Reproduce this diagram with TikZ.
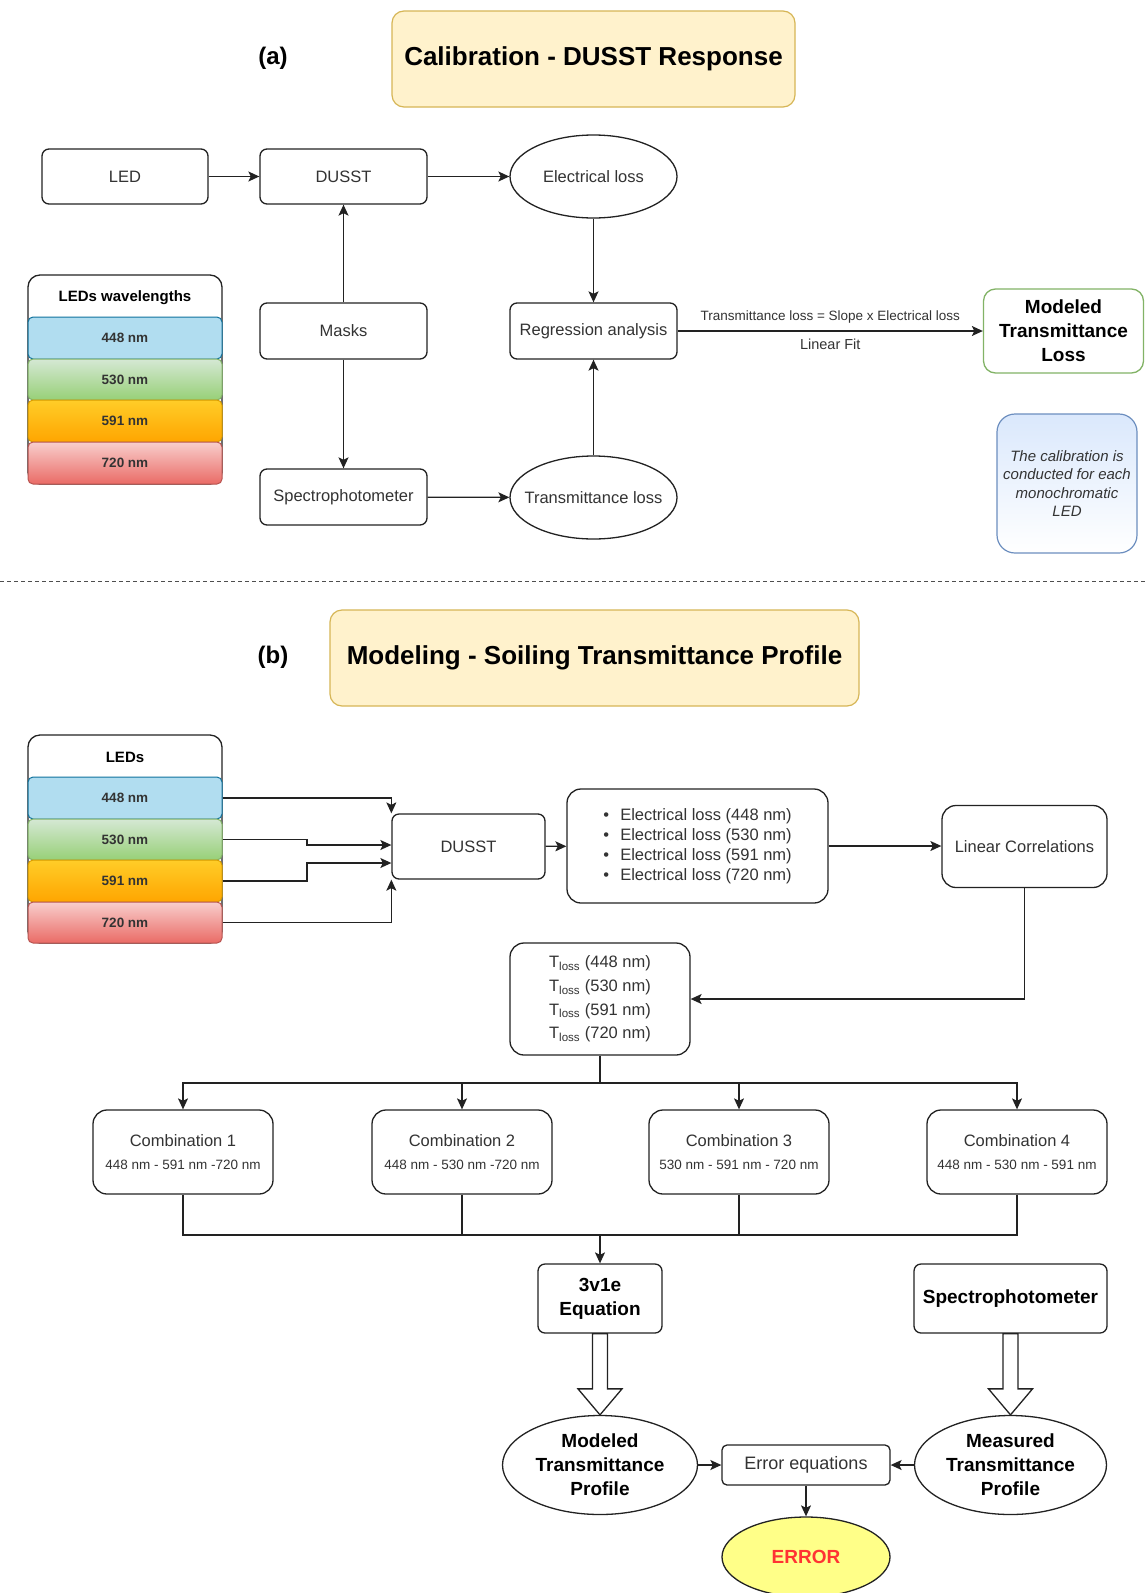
\documentclass[tikz,border=0pt]{standalone}
\usepackage{fontspec}
\setmainfont{Liberation Sans}
\usetikzlibrary{arrows.meta,calc,shapes.geometric}
\definecolor{ln}{HTML}{222222}
\definecolor{tx}{HTML}{333333}
\definecolor{ttlfill}{HTML}{FFF2CC}
\definecolor{ttldraw}{HTML}{D6B656}
\definecolor{bluefill}{HTML}{B1DDF0}
\definecolor{bluedraw}{HTML}{10739E}
\definecolor{greentop}{HTML}{D5E8D4}
\definecolor{greenbot}{HTML}{97D077}
\definecolor{greendraw}{HTML}{82B366}
\definecolor{orangetop}{HTML}{FFCD28}
\definecolor{orangebot}{HTML}{FFA500}
\definecolor{orangedraw}{HTML}{D79B00}
\definecolor{redtop}{HTML}{F8CECC}
\definecolor{redbot}{HTML}{EA6B66}
\definecolor{reddraw}{HTML}{B85450}
\definecolor{notetop}{HTML}{DAE8FC}
\definecolor{notedraw}{HTML}{6C8EBF}
\definecolor{errfill}{HTML}{FFFF88}
\definecolor{errtext}{HTML}{FF3333}
\newcommand{\fz}[2]{\fontsize{#1}{#2}\selectfont}
\newcommand{\hollowarr}[2]{\draw[ln, line width=1.3pt, fill=white] let \p1=(#1), \p2=(#2) in
  (\x1-7.5pt,\y1) -- (\x1-7.5pt,\y2+26pt) -- (\x1-22pt,\y2+26pt) -- (\x1,\y2)
  -- (\x1+22pt,\y2+26pt) -- (\x1+7.5pt,\y2+26pt) -- (\x1+7.5pt,\y1) -- cycle;}
\begin{document}
\begin{tikzpicture}[x=1pt,y=-1pt,
  box/.style={draw=ln, line width=1.3pt, rounded corners=7pt, fill=white, text=tx,
    inner sep=0pt, align=center, font=\fz{16.5}{20}},
  bigbox/.style={box, rounded corners=14pt},
  ell/.style={ellipse, draw=ln, line width=1.3pt, fill=white, text=tx, inner sep=-30pt,
    align=center, font=\fz{16.5}{20}},
  boldtxt/.style={text=black, font=\bfseries\fz{19}{24}},
  ttl/.style={draw=ttldraw, fill=ttlfill, line width=1.2pt, rounded corners=12pt,
    inner sep=0pt, font=\bfseries\fz{26}{30}},
  lbl/.style={font=\bfseries\fz{24}{28}, inner sep=0pt},
  arr/.style={draw=ln, line width=1.3pt, -{Stealth[length=11pt,width=10pt,inset=2.5pt]}},
  plain/.style={draw=ln, line width=1.3pt},
  tbl/.style={draw=ln, line width=1.3pt, rounded corners=12pt, fill=white, inner sep=0pt},
  tblhead/.style={font=\bfseries\fz{15}{18}, text=black, inner sep=0pt},
  rowbase/.style={rounded corners=5pt, line width=1pt, inner sep=0pt,
    minimum width=194pt, font=\bfseries\fz{13.5}{16}, text=tx},
  rowb/.style={rowbase, draw=bluedraw, fill=bluefill},
  rowg/.style={rowbase, draw=greendraw, top color=greentop, bottom color=greenbot},
  rowo/.style={rowbase, draw=orangedraw, top color=orangetop, bottom color=orangebot},
  rowr/.style={rowbase, draw=reddraw, top color=redtop, bottom color=redbot},
  edgelbl/.style={font=\fz{13.5}{16}, text=tx, inner sep=0pt}
]
\clip (0,0) rectangle (1145,1593);
\fill[white] (0,0) rectangle (1145,1593);

% ================= (a) =================
\node[lbl] (labA) at (273,58) {(a)};
\node[ttl, minimum width=403pt, minimum height=96pt] (titleA) at (593.5,59) {Calibration - DUSST Response};

\node[box, minimum width=166pt, minimum height=55pt] (led) at (125,176.5) {LED};
\node[box, minimum width=167pt, minimum height=55pt] (dusstA) at (343.5,176.5) {DUSST};
\node[ell, minimum width=167pt, minimum height=83pt] (elossA) at (593.5,176.5) {Electrical loss};
\node[box, minimum width=167pt, minimum height=56pt] (masks) at (343.5,331) {Masks};
\node[box, minimum width=167pt, minimum height=56pt] (regr) at (593.5,331) {Regression analysis};
\node[box, minimum width=167pt, minimum height=56pt] (specA) at (343.5,497) {Spectrophotometer};
\node[ell, minimum width=167pt, minimum height=83pt] (tlossA) at (593.5,497.5) {Transmittance loss};
\node[box, draw=greendraw, rounded corners=12pt, minimum width=160pt, minimum height=84pt, boldtxt] (mloss) at (1063.5,331) {Modeled\\Transmittance\\Loss};
\node[draw=notedraw, line width=1.2pt, rounded corners=18pt, top color=notetop, bottom color=white,
  minimum width=140pt, minimum height=139pt, inner sep=0pt, align=center, text=tx,
  font=\itshape\fz{15}{18.6}] (note) at (1067,483.5) {The calibration is\\conducted for each\\monochromatic\\LED};

% LED table (a)
\node[tbl, minimum width=194pt, minimum height=209pt] (tabA) at (125,379.5) {};
\node[tblhead] (tabAh) at (125,298) {LEDs wavelengths};
\node[rowb, minimum height=42pt] (a448) at (125,338) {448 nm};
\node[rowg, minimum height=41pt] (a530) at (125,379.5) {530 nm};
\node[rowo, minimum height=42pt] (a591) at (125,421) {591 nm};
\node[rowr, minimum height=42pt] (a720) at (125,463) {720 nm};

% connectors (a)
\draw[arr] (led) -- (dusstA);
\draw[arr] (dusstA) -- (elossA);
\draw[arr] (elossA) -- (regr);
\draw[arr] (masks) -- (dusstA);
\draw[arr] (masks) -- (specA);
\draw[arr] (specA) -- (tlossA);
\draw[arr] (tlossA) -- (regr);
\draw[arr] (regr) -- node[edgelbl, above=7pt] (eqlbl) {Transmittance loss = Slope x Electrical loss}
  node[edgelbl, below=7pt, font=\fz{14.5}{17}] (fitlbl) {Linear Fit} (mloss);

% separator
\coordinate (sepL) at (0,581);
\coordinate (sepR) at (1145,581);
\draw[draw=ln!80, line width=1pt, dash pattern=on 4pt off 3pt] (sepL) -- (sepR);

% ================= (b) =================
\node[lbl] (labB) at (273,657) {(b)};
\node[ttl, minimum width=529pt, minimum height=96pt] (titleB) at (594.5,658) {Modeling - Soiling Transmittance Profile};

% LED table (b)
\node[tbl, minimum width=194pt, minimum height=208pt] (tabB) at (125,839) {};
\node[tblhead] (tabBh) at (125,757) {LEDs};
\node[rowb, minimum height=42pt] (b448) at (125,798) {448 nm};
\node[rowg, minimum height=41pt] (b530) at (125,839.5) {530 nm};
\node[rowo, minimum height=42pt] (b591) at (125,881) {591 nm};
\node[rowr, minimum height=41pt] (b720) at (125,922.5) {720 nm};

\node[box, minimum width=153pt, minimum height=65pt] (dusstB) at (468.5,846.5) {DUSST};
\node[bigbox, minimum width=261pt, minimum height=114pt, align=left] (elist) at (697.5,846)
  {\makebox[17pt][l]{\textbullet}Electrical loss (448 nm)\\
   \makebox[17pt][l]{\textbullet}Electrical loss (530 nm)\\
   \makebox[17pt][l]{\textbullet}Electrical loss (591 nm)\\
   \makebox[17pt][l]{\textbullet}Electrical loss (720 nm)};
\node[bigbox, minimum width=165pt, minimum height=82pt] (lincorr) at (1024.5,846.5) {Linear Correlations};
\node[bigbox, minimum width=180pt, minimum height=112pt, font=\fz{16.5}{23.7}] (tlossB) at (600,999)
  {T\textsubscript{loss} (448 nm)\\T\textsubscript{loss} (530 nm)\\T\textsubscript{loss} (591 nm)\\T\textsubscript{loss} (720 nm)};

\node[bigbox, minimum width=180pt, minimum height=84pt] (c1) at (183,1152) {Combination 1\\[3pt]{\fz{13.5}{16}448 nm - 591 nm -720 nm}};
\node[bigbox, minimum width=180pt, minimum height=84pt] (c2) at (462,1152) {Combination 2\\[3pt]{\fz{13.5}{16}448 nm - 530 nm -720 nm}};
\node[bigbox, minimum width=180pt, minimum height=84pt] (c3) at (739,1152) {Combination 3\\[3pt]{\fz{13.5}{16}530 nm - 591 nm - 720 nm}};
\node[bigbox, minimum width=180pt, minimum height=84pt] (c4) at (1017,1152) {Combination 4\\[3pt]{\fz{13.5}{16}448 nm - 530 nm - 591 nm}};

\node[box, minimum width=124pt, minimum height=69pt, boldtxt] (eq) at (600,1298.5) {3v1e\\Equation};
\node[box, minimum width=193pt, minimum height=69pt, boldtxt] (specB) at (1010.5,1298.5) {Spectrophotometer};
\node[ell, minimum width=195pt, minimum height=99pt, boldtxt] (mprof) at (600,1465) {Modeled\\Transmittance\\Profile};
\node[ell, minimum width=192pt, minimum height=99pt, boldtxt] (meas) at (1010.5,1465) {Measured\\Transmittance\\Profile};
\node[box, rounded corners=5pt, minimum width=168pt, minimum height=40pt, font=\fz{18}{22}] (erreq) at (806,1465) {Error equations};
\node[ell, fill=errfill, minimum width=168pt, minimum height=80pt, text=errtext, font=\bfseries\fz{19}{24}] (err) at (806,1557) {ERROR};

% connectors (b)
\coordinate (j530) at (307,845);
\coordinate (j591) at (307,863);
\draw[arr] (b448.east) -| (dusstB.north west);
\draw[arr] (b530.east) -| (j530) -- (j530 -| dusstB.west);
\draw[arr] (b591.east) -| (j591) -- (j591 -| dusstB.west);
\draw[arr] (b720.east) -| (dusstB.south west);
\draw[arr] (dusstB) -- (elist);
\draw[arr] (elist.east) -- (elist.east -| lincorr.west);
\draw[arr] (lincorr.south) |- (tlossB.east);

\coordinate (split) at (600,1083);
\draw[plain] (tlossB.south) -- (split);
\draw[arr] (split) -| (c1.north);
\draw[arr] (split) -| (c2.north);
\draw[arr] (split) -| (c3.north);
\draw[arr] (split) -| (c4.north);

\coordinate (join) at (600,1235);
\draw[plain] (c1.south) |- (join);
\draw[plain] (c2.south) |- (join);
\draw[plain] (c3.south) |- (join);
\draw[plain] (c4.south) |- (join);
\draw[arr] (join) -- (eq.north);

\hollowarr{eq.south}{mprof.north}
\hollowarr{specB.south}{meas.north}

\draw[arr] (mprof) -- (erreq);
\draw[arr] (meas) -- (erreq);
\draw[arr] (erreq) -- (err);
\end{tikzpicture}
\end{document}
